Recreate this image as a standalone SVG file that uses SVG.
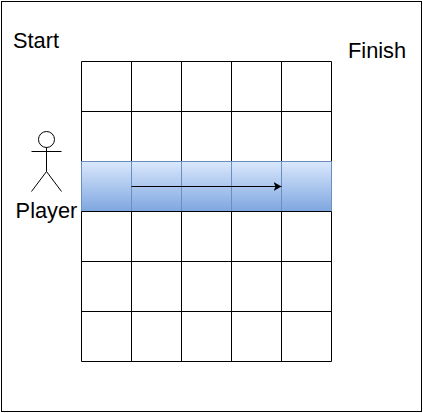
<svg xmlns="http://www.w3.org/2000/svg" width="423" height="413" viewBox="0 0 423 413">
<style>
.l{stroke:#000;stroke-width:1;fill:none}
.t{font-family:"Liberation Sans",Arial,sans-serif;font-size:21.800px;fill:#000}
</style>
<defs>
<linearGradient id="g" x1="0" y1="0" x2="0" y2="1"><stop offset="0" stop-color="#dae8fc"/><stop offset="1" stop-color="#7ea6e0"/></linearGradient>
<marker id="a" markerUnits="userSpaceOnUse" markerWidth="10" markerHeight="10" refX="8" refY="4.500" orient="auto"><path d="M0 0L8 4.500L0 9L2 4.500Z" fill="#000"/></marker>
</defs>
<rect width="423" height="413" fill="#fff"/>
<g id="frame"><rect class="l" x="1.5" y="1.5" width="420" height="410"/></g>
<g id="grid"><path class="l" d="M81.500 61.500H331.500M81.500 111.500H331.500M81.500 161.500H331.500M81.500 211.500H331.500M81.500 261.500H331.500M81.500 311.500H331.500M81.500 361.500H331.500M81.500 61.500V361.500M131.500 61.500V361.500M181.500 61.500V361.500M231.500 61.500V361.500M281.500 61.500V361.500M331.500 61.500V361.500"/></g>
<g id="row"><rect x="81.500" y="161.500" width="250" height="50" fill="url(#g)"/>
<path d="M81.500 161.500H331.500M81.500 161.500V211.500M131.500 161.500V211.500M181.500 161.500V211.500M231.500 161.500V211.500M281.500 161.500V211.500M331.500 161.500V211.500" fill="none" stroke="#6c8ebf"/>
<path class="l" d="M81.500 211.500H331.500"/></g>
<g id="connectors"><path class="l" d="M131.500 186.500H281.500" marker-end="url(#a)"/></g>
<g id="player"><circle class="l" cx="46.500" cy="139.500" r="8"/><path class="l" d="M46.500 147.500V171.500M31.500 151.500H61.500M46.500 171.500L31.500 191.500M46.500 171.500L61.500 191.500"/><text class="t" x="46.500" y="218" text-anchor="middle">Player</text></g>
<g id="start"><text class="t" x="13" y="48">Start</text></g>
<g id="finish"><text class="t" x="348" y="58">Finish</text></g>
</svg>
